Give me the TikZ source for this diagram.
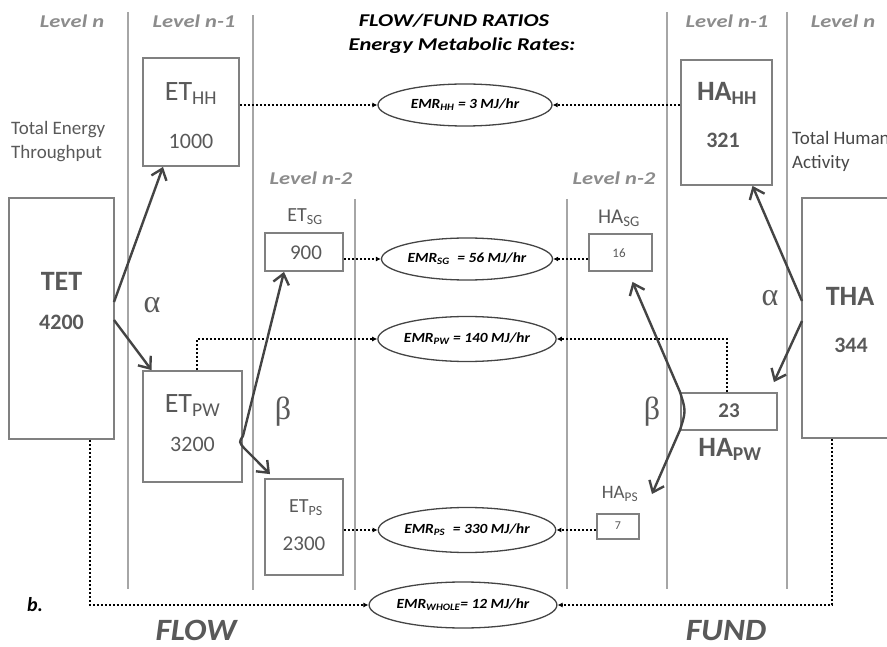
\documentclass[tikz,border=0pt]{standalone}
\usepackage{fontspec}
\setmainfont{Carlito}
\newfontfamily\greekfont{Liberation Serif}
\usetikzlibrary{arrows.meta,shapes.geometric,calc}

\definecolor{rulegray}{HTML}{A6A6A6}
\definecolor{boxline}{HTML}{808080}
\definecolor{boxtext}{HTML}{595959}
\definecolor{leveltext}{HTML}{8C8C8C}
\definecolor{arrowgray}{HTML}{444444}

\newcommand\fsz[1]{\fontsize{#1}{#1}\selectfont}
\newcommand\lowidx[1]{\textsubscript{#1}}
\newcommand\wide[2]{\scalebox{#1}[1]{#2}}

\tikzset{
  levelrule/.style={draw=rulegray, line width=1.8pt},
  leveltag/.style={text=leveltext, font=\fsz{18}\bfseries\itshape},
  boxnode/.style={draw=boxline, line width=1.8pt, inner sep=0pt},
  boxlabel/.style={text=boxtext, inner sep=0pt},
  emr/.style={ellipse, draw=arrowgray, line width=1.3pt, inner sep=0pt,
    font=\fsz{14}\bfseries\itshape},
  rate/.style={draw=black, line width=1.4pt, dash pattern=on 2.5pt off 1.5pt,
    -{Latex[length=5pt,width=5pt]}},
  flowarrow/.style={draw=arrowgray, line width=2.4pt,
    -{Straight Barb[length=10pt,width=16pt]}},
  flowpair/.style={draw=arrowgray, line width=2.4pt,
    {Straight Barb[length=10pt,width=16pt]}-{Straight Barb[length=10pt,width=16pt]}},
  greek/.style={text=boxtext, font=\greekfont\fsz{32}, inner sep=0pt},
}

\begin{document}
\begin{tikzpicture}[x=1pt,y=-1pt]
\useasboundingbox (0,0) rectangle (887,647);

% level separators
\draw[levelrule] (128,12) -- (128,589);
\draw[levelrule] (253,15) -- (253,590);
\draw[levelrule] (355,199) -- (355,590);
\draw[levelrule] (567,199) -- (567,589);
\draw[levelrule] (667,12) -- (667,589);
\draw[levelrule] (787,12) -- (787,589);

% level headings
\node[leveltag] (lvA) at (72,21) {\wide{1.25}{Level n}};
\node[leveltag] (lvB) at (194,21) {\wide{1.25}{Level n-1}};
\node[leveltag] (lvC) at (311,178) {\wide{1.25}{Level n-2}};
\node[leveltag] (lvD) at (614,178) {\wide{1.25}{Level n-2}};
\node[leveltag] (lvE) at (727,21) {\wide{1.25}{Level n-1}};
\node[leveltag] (lvF) at (843,21) {\wide{1.25}{Level n}};

% title
\node[font=\fsz{18}\bfseries\itshape] (ttl1) at (454,21) {\wide{1.25}{FLOW/FUND RATIOS}};
\node[font=\fsz{18}\bfseries\itshape] (ttl2) at (462,46) {\wide{1.25}{Energy Metabolic Rates:}};

% side captions
\node[boxlabel, font=\fsz{19}, anchor=west, align=left] (tetcap) at (11,142)
  {Total Energy\\[5pt]Throughput};
\node[text=boxtext!80!black, font=\fsz{19}, anchor=west, align=left, inner sep=0pt] (thacap) at (792,151)
  {Total Human\\[5pt]Activity};

% flow side boxes
\node[boxnode, minimum width=105pt, minimum height=241pt] (TET) at (61.5,318.5) {};
\node[boxlabel, font=\fsz{28}\bfseries] (tetT) at (61.5,281) {TET};
\node[boxlabel, font=\fsz{22}\bfseries] (tetN) at (61.5,322) {4200};

\node[boxnode, minimum width=96pt, minimum height=108pt] (ETHH) at (191,112) {};
\node[boxlabel, font=\fsz{28}] (ethhT) at (191,94) {ET\lowidx{HH}};
\node[boxlabel, font=\fsz{22}] (ethhN) at (191,141) {1000};

\node[boxnode, minimum width=99pt, minimum height=111pt] (ETPW) at (192.5,426.5) {};
\node[boxlabel, font=\fsz{28}] (etpwT) at (192.5,406) {ET\lowidx{PW}};
\node[boxlabel, font=\fsz{22}] (etpwN) at (192.5,444) {3200};

\node[boxnode, minimum width=78pt, minimum height=38pt] (ETSG) at (304,252) {};
\node[boxlabel, font=\fsz{20}] (etsgT) at (305,217) {ET\lowidx{SG}};
\node[boxlabel, font=\fsz{21}] (etsgN) at (306,253) {900};

\node[boxnode, minimum width=78pt, minimum height=96pt] (ETPS) at (304,527) {};
\node[boxlabel, font=\fsz{20}] (etpsT) at (306,508) {ET\lowidx{PS}};
\node[boxlabel, font=\fsz{21}] (etpsN) at (304,544) {2300};

% fund side boxes
\node[boxnode, minimum width=91pt, minimum height=125pt] (HAHH) at (726.5,122.5) {};
\node[boxlabel, font=\fsz{28}\bfseries] (hahhT) at (727,93) {HA\lowidx{HH}};
\node[boxlabel, font=\fsz{22}\bfseries] (hahhN) at (723,140) {321};

\node[boxnode, minimum width=63pt, minimum height=37pt] (HASG) at (620.5,252.5) {};
\node[boxlabel, font=\fsz{21}] (hasgT) at (619,218) {HA\lowidx{SG}};
\node[boxlabel, font=\fsz{13}] (hasgN) at (619,253) {16};

\node[boxnode, minimum width=96pt, minimum height=37pt] (HAPW) at (729,411.5) {};
\node[boxlabel, font=\fsz{21}\bfseries] (hapwN) at (729,411) {23};
\node[boxlabel, font=\fsz{28}\bfseries] (hapwT) at (730,449) {HA\lowidx{PW}};

\node[boxnode, minimum width=42pt, minimum height=25pt] (HAPS) at (618,526.5) {};
\node[boxlabel, font=\fsz{12}] (hapsN) at (618,526) {7};
\node[boxlabel, font=\fsz{19}] (hapsT) at (620,494) {HA\lowidx{PS}};

\node[boxnode, minimum width=118pt, minimum height=240pt] (THA) at (861,318) {};
\node[boxlabel, font=\fsz{28}\bfseries] (thaT) at (850,296) {THA};
\node[boxlabel, font=\fsz{22}\bfseries] (thaN) at (851,345) {344};

% energy metabolic rates
\node[emr, minimum width=174pt, minimum height=42pt] (EMRHH) at (465,105)
  {\wide{1.1}{EMR\lowidx{HH} = 3 MJ/hr}};
\node[emr, minimum width=171pt, minimum height=42pt] (EMRSG) at (467,259)
  {\wide{1.1}{EMR\lowidx{SG}\enspace = 56 MJ/hr}};
\node[emr, minimum width=171pt, minimum height=45pt] (EMRPW) at (467,339)
  {\wide{1.1}{EMR\lowidx{PW} = 140 MJ/hr}};
\node[emr, minimum width=170pt, minimum height=45pt] (EMRPS) at (467,530)
  {\wide{1.1}{EMR\lowidx{PS}\enspace = 330 MJ/hr}};
\node[emr, minimum width=185pt, minimum height=46pt] (EMRWH) at (463,605)
  {\wide{1.1}{EMR\lowidx{WHOLE}= 12 MJ/hr}};

% rate connectors
\draw[rate] (ETHH.east |- EMRHH.west) -- (EMRHH.west);
\draw[rate] (HAHH.west |- EMRHH.east) -- (EMRHH.east);
\draw[rate] (ETSG.east |- EMRSG.west) -- (EMRSG.west);
\draw[rate] (HASG.west |- EMRSG.east) -- (EMRSG.east);
\draw[rate] ($(ETPW.north)+(4.5,0)$) |- (EMRPW.west);
\draw[rate] ($(HAPW.north)+(-2,0)$) |- (EMRPW.east);
\draw[rate] (ETPS.east |- EMRPS.west) -- (EMRPS.west);
\draw[rate] (HAPS.west |- EMRPS.east) -- (EMRPS.east);
\draw[rate] ($(TET.south)+(28.5,0)$) |- (EMRWH.west);
\draw[rate] ($(THA.south)+(-29,0)$) |- (EMRWH.east);

% flow splits
\coordinate (tetA) at (114,302);
\coordinate (tetB) at (114,320);
\draw[flowarrow] (tetA) -- ($(ETHH.south)+(-28,0)$);
\draw[flowarrow] (tetB) -- ($(ETPW.north)+(-41,0)$);
\draw[flowpair] ($(ETSG.south)+(-20,0)$) -- (243,436)
  .. controls (239,442) .. (244,448) -- ($(ETPS.north)+(-34,-4)$);

% fund splits
\coordinate (thaA) at (802,301);
\coordinate (thaB) at (802,321);
\coordinate (hapsTip) at (652,494);
\draw[flowarrow] (thaA) -- ($(HAHH.south)+(26,0)$);
\draw[flowarrow] (thaB) -- ($(HAPW.north east)+(-4,-10)$);
\draw[flowpair] ($(HASG.south)+(12,10)$) -- (680,392)
  .. controls (686,411) .. (680,430) -- (hapsTip);

% split shares
\node[greek] (alphaL) at (152,305) {α};
\node[greek] (betaL) at (283,412) {β};
\node[greek] (alphaR) at (770,298) {α};
\node[greek] (betaR) at (652,412) {β};

% bottom captions
\node[font=\fsz{20}\bfseries\itshape] (panel) at (35,605) {b.};
\node[text=boxtext, font=\fsz{31}\bfseries\itshape, anchor=base, inner sep=0pt] (flowcap) at (196,640) {\wide{1.08}{FLOW}};
\node[text=boxtext, font=\fsz{31}\bfseries\itshape, anchor=base, inner sep=0pt] (fundcap) at (726,640) {\wide{1.08}{FUND}};
\end{tikzpicture}
\end{document}
